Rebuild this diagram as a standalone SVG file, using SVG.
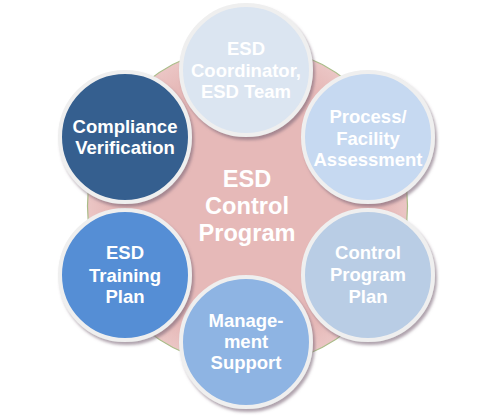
<svg xmlns="http://www.w3.org/2000/svg" width="502" height="419" viewBox="0 0 502 419">
<defs>
<filter id="sh" x="-20%" y="-20%" width="150%" height="150%">
<feDropShadow dx="2" dy="3" stdDeviation="1.5" flood-color="#7a6676" flood-opacity="0.6"/>
</filter>
<radialGradient id="pink" cx="0.5" cy="0.5" r="0.5">
<stop offset="0.85" stop-color="#E6B9B8"/>
<stop offset="1" stop-color="#EBC6C5"/>
</radialGradient>
</defs>
<style>
.c{stroke:#EFEFEF;stroke-width:4;filter:url(#sh)}
.t{font-family:"Liberation Sans",Arial,sans-serif;font-weight:bold;fill:#FFFFFF;text-anchor:middle;font-size:18.5px}
.m{font-size:23.6px}
</style>
<g id="center">
<circle cx="247.5" cy="206" r="160" fill="url(#pink)" stroke="#A9BC88" stroke-width="1.2"/>
<text class="t m" x="247" y="187">ESD</text>
<text class="t m" x="247" y="214">Control</text>
<text class="t m" x="247" y="241">Program</text>
</g>
<g id="connectors"></g>
<g id="n-coordinator">
<circle class="c" cx="246" cy="70" r="65" fill="#DBE5F1"/>
<text class="t" x="246" y="55">ESD</text>
<text class="t" x="246" y="77">Coordinator,</text>
<text class="t" x="246" y="98">ESD Team</text>
</g>
<g id="n-process">
<circle class="c" cx="368" cy="137" r="65" fill="#C6D9F1"/>
<text class="t" x="368" y="123">Process/</text>
<text class="t" x="368" y="145">Facility</text>
<text class="t" x="368" y="166">Assessment</text>
</g>
<g id="n-control">
<circle class="c" cx="368" cy="275" r="65" fill="#B9CDE5"/>
<text class="t" x="368" y="259">Control</text>
<text class="t" x="368" y="281">Program</text>
<text class="t" x="368" y="303">Plan</text>
</g>
<g id="n-management">
<circle class="c" cx="246" cy="342" r="65" fill="#8EB4E3"/>
<text class="t" x="246" y="327">Manage-</text>
<text class="t" x="246" y="348">ment</text>
<text class="t" x="246" y="369">Support</text>
</g>
<g id="n-training">
<circle class="c" cx="125" cy="275" r="65" fill="#558ED5"/>
<text class="t" x="125" y="259">ESD</text>
<text class="t" x="125" y="282">Training</text>
<text class="t" x="125" y="303">Plan</text>
</g>
<g id="n-compliance">
<circle class="c" cx="125" cy="137" r="65" fill="#355F8F"/>
<text class="t" x="125" y="133">Compliance</text>
<text class="t" x="125" y="154">Verification</text>
</g>
</svg>
